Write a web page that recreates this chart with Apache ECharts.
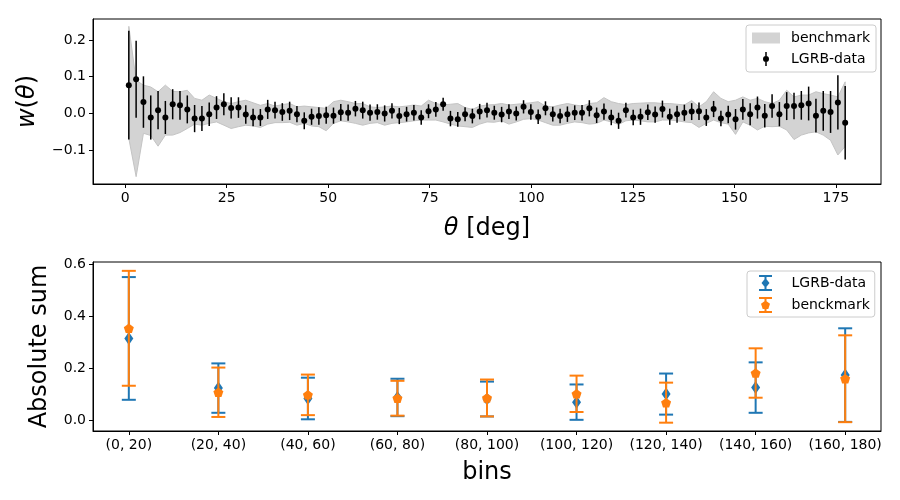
<!DOCTYPE html>
<html>
<head>
<meta charset="utf-8">
<script src="https://cdn.jsdelivr.net/npm/echarts@6/dist/echarts.min.js"></script>
<style>
html, body { margin: 0; padding: 0; background: #fff; }
#chart { width: 900px; height: 500px; }
</style>
</head>
<body>
<div id="chart"></div>
<script>
// angular bin centres (deg)
const theta = [
  0.9, 2.7, 4.5, 6.3, 8.1, 9.9, 11.7, 13.5, 15.3, 17.1,
  18.9, 20.7, 22.5, 24.3, 26.1, 27.9, 29.7, 31.5, 33.3, 35.1,
  36.9, 38.7, 40.5, 42.3, 44.1, 45.9, 47.7, 49.5, 51.3, 53.1,
  54.9, 56.7, 58.5, 60.3, 62.1, 63.9, 65.7, 67.5, 69.3, 71.1,
  72.9, 74.7, 76.5, 78.3, 80.1, 81.9, 83.7, 85.5, 87.3, 89.1,
  90.9, 92.7, 94.5, 96.3, 98.1, 99.9, 101.7, 103.5, 105.3, 107.1,
  108.9, 110.7, 112.5, 114.3, 116.1, 117.9, 119.7, 121.5, 123.3, 125.1,
  126.9, 128.7, 130.5, 132.3, 134.1, 135.9, 137.7, 139.5, 141.3, 143.1,
  144.9, 146.7, 148.5, 150.3, 152.1, 153.9, 155.7, 157.5, 159.3, 161.1,
  162.9, 164.7, 166.5, 168.3, 170.1, 171.9, 173.7, 175.5, 177.3
];
// LGRB-data w(theta) and its error
const wData = [
  0.077, 0.093, 0.031, -0.011, 0.009, -0.011, 0.025, 0.022, 0.011, -0.014,
  -0.014, -0.002, 0.016, 0.025, 0.015, 0.016, -0.003, -0.011, -0.011, 0.011,
  0.009, 0.004, 0.007, -0.002, -0.020, -0.009, -0.007, -0.005, -0.006, 0.003,
  0.002, 0.013, 0.009, 0.002, 0.004, 0.000, 0.007, -0.007, -0.002, 0.002,
  -0.011, 0.006, 0.011, 0.025, -0.014, -0.016, -0.002, -0.007, 0.005, 0.009,
  0.002, -0.003, 0.005, 0.000, 0.018, 0.004, -0.009, 0.014, -0.002, -0.007,
  -0.002, 0.002, 0.002, 0.014, -0.005, 0.005, -0.011, -0.020, 0.009, -0.011,
  -0.009, 0.003, -0.003, 0.012, -0.009, -0.002, 0.002, 0.005, 0.006, -0.011,
  0.012, -0.014, -0.003, -0.016, 0.011, -0.002, 0.016, -0.006, 0.020, -0.002,
  0.020, 0.020, 0.022, 0.027, -0.006, 0.007, 0.004, 0.030, -0.025
];
const wErr = [
  0.148, 0.105, 0.070, 0.060, 0.052, 0.045, 0.041, 0.039, 0.038, 0.037,
  0.034, 0.032, 0.031, 0.030, 0.029, 0.028, 0.025, 0.024, 0.023, 0.026,
  0.023, 0.024, 0.025, 0.022, 0.023, 0.022, 0.024, 0.023, 0.022, 0.023,
  0.022, 0.021, 0.023, 0.022, 0.021, 0.022, 0.021, 0.022, 0.020, 0.021,
  0.020, 0.019, 0.020, 0.018, 0.021, 0.020, 0.019, 0.020, 0.021, 0.020,
  0.019, 0.021, 0.020, 0.019, 0.018, 0.021, 0.020, 0.019, 0.020, 0.020,
  0.021, 0.020, 0.021, 0.022, 0.021, 0.022, 0.021, 0.022, 0.020, 0.021,
  0.022, 0.021, 0.022, 0.023, 0.022, 0.023, 0.022, 0.023, 0.024, 0.023,
  0.022, 0.021, 0.024, 0.028, 0.028, 0.030, 0.030, 0.032, 0.032, 0.033,
  0.038, 0.036, 0.039, 0.046, 0.046, 0.054, 0.057, 0.074, 0.100
];
// benchmark band
const benchLow = [
  -0.068, -0.172, -0.054, -0.060, -0.089, -0.059, -0.059, -0.052, -0.041, -0.029,
  -0.032, -0.027, -0.023, -0.032, -0.041, -0.036, -0.032, -0.034, -0.038, -0.029,
  -0.025, -0.025, -0.024, -0.032, -0.027, -0.034, -0.036, -0.047, -0.027, -0.020,
  -0.023, -0.027, -0.032, -0.027, -0.025, -0.032, -0.027, -0.025, -0.023, -0.020,
  -0.018, -0.018, -0.018, -0.023, -0.029, -0.034, -0.036, -0.038, -0.029, -0.023,
  -0.024, -0.020, -0.029, -0.023, -0.016, -0.014, -0.018, -0.025, -0.032, -0.032,
  -0.027, -0.023, -0.025, -0.029, -0.027, -0.018, -0.023, -0.030, -0.020, -0.018,
  -0.020, -0.023, -0.023, -0.018, -0.018, -0.020, -0.023, -0.025, -0.038, -0.027,
  -0.018, -0.025, -0.029, -0.057, -0.023, -0.032, -0.045, -0.035, -0.036, -0.035,
  -0.045, -0.071, -0.059, -0.053, -0.050, -0.059, -0.073, -0.113, -0.090
];
const benchHigh = [
  0.237, 0.090, 0.077, 0.072, 0.059, 0.077, 0.060, 0.059, 0.063, 0.041,
  0.036, 0.050, 0.041, 0.032, 0.027, 0.032, 0.036, 0.029, 0.022, 0.027,
  0.020, 0.024, 0.027, 0.018, 0.020, 0.018, 0.016, 0.014, 0.032, 0.036,
  0.032, 0.027, 0.027, 0.018, 0.016, 0.018, 0.020, 0.018, 0.020, 0.023,
  0.020, 0.036, 0.027, 0.023, 0.025, 0.027, 0.016, 0.011, 0.020, 0.023,
  0.024, 0.027, 0.023, 0.025, 0.027, 0.029, 0.032, 0.020, 0.018, 0.023,
  0.027, 0.023, 0.020, 0.027, 0.029, 0.043, 0.032, 0.027, 0.024, 0.027,
  0.028, 0.029, 0.029, 0.027, 0.027, 0.025, 0.023, 0.035, 0.018, 0.032,
  0.059, 0.041, 0.032, 0.036, 0.045, 0.036, 0.041, 0.032, 0.027, 0.036,
  0.063, 0.045, 0.050, 0.050, 0.059, 0.054, 0.050, 0.045, 0.086
];
const thetaTicks = [0, 25, 50, 75, 100, 125, 150, 175];
const wTicks = [-0.1, 0.0, 0.1, 0.2];

// absolute sums per bin
const bins = ['(0, 20)', '(20, 40)', '(40, 60)', '(60, 80)', '(80, 100)',
  '(100, 120)', '(120, 140)', '(140, 160)', '(160, 180)'];
const lgrbSum = [0.314, 0.123, 0.083, 0.087, 0.081, 0.069, 0.100, 0.125, 0.173];
const lgrbSumErr = [0.236, 0.095, 0.080, 0.072, 0.067, 0.068, 0.079, 0.097, 0.180];
const benchSum = [0.353, 0.107, 0.097, 0.084, 0.085, 0.101, 0.067, 0.181, 0.159];
const benchSumErr = [0.221, 0.095, 0.078, 0.067, 0.071, 0.070, 0.077, 0.095, 0.167];
const sumTicks = [0.0, 0.2, 0.4, 0.6];

const FONT = 'DejaVu Sans';
const BLUE = '#1f77b4';
const ORANGE = '#ff7f0e';
const PENTAGON = 'path://M50,0 L97.6,34.5 L79.4,90.5 L20.6,90.5 L2.4,34.5 Z';

function fmt(v) {
  return v.toFixed(1).replace('-', '\u2212');
}

function axisCommon() {
  return {
    axisLine: { show: true, onZero: false, lineStyle: { color: '#000', width: 1 } },
    axisTick: { show: true, length: 4, lineStyle: { color: '#000', width: 1 } },
    splitLine: { show: false },
    nameTextStyle: {
      fontFamily: FONT, fontSize: 24, color: '#000',
      rich: { i: { fontFamily: FONT, fontSize: 24, fontStyle: 'italic', color: '#000' } }
    }
  };
}

// vertical error bars, caps optional
function errBars(color, width, cap) {
  return function (params, api) {
    const x = api.value(0);
    const lo = api.coord([x, api.value(1)]);
    const hi = api.coord([x, api.value(2)]);
    const st = { stroke: color, lineWidth: width };
    const kids = [{ type: 'line', shape: { x1: lo[0], y1: lo[1], x2: hi[0], y2: hi[1] }, style: st }];
    if (cap) {
      kids.push({ type: 'line', shape: { x1: lo[0] - cap, y1: lo[1], x2: lo[0] + cap, y2: lo[1] }, style: st });
      kids.push({ type: 'line', shape: { x1: hi[0] - cap, y1: hi[1], x2: hi[0] + cap, y2: hi[1] }, style: st });
    }
    return { type: 'group', children: kids };
  };
}

function bandPolygon(params, api) {
  if (params.dataIndex !== 0) return null;
  const pts = [];
  for (let i = 0; i < theta.length; i++) pts.push(api.coord([theta[i], benchHigh[i]]));
  for (let i = theta.length - 1; i >= 0; i--) pts.push(api.coord([theta[i], benchLow[i]]));
  return {
    type: 'polygon',
    shape: { points: pts },
    style: { fill: '#d3d3d3', stroke: '#c4c4c4', lineWidth: 1 }
  };
}

const chart = echarts.init(document.getElementById('chart'), null, { renderer: 'canvas' });

const xTop = Object.assign(axisCommon(), {
  type: 'value', gridIndex: 0, min: -7.92, max: 186.12,
  name: '{i|θ} [deg]', nameLocation: 'middle', nameGap: 33
});
xTop.axisTick.customValues = thetaTicks;
xTop.axisLabel = { customValues: thetaTicks, fontFamily: FONT, fontSize: 14, color: '#000', margin: 7 };

const yTop = Object.assign(axisCommon(), {
  type: 'value', gridIndex: 0, min: -0.192, max: 0.257,
  name: '{i|w}({i|θ})', nameLocation: 'middle', nameGap: 53
});
yTop.axisTick.customValues = wTicks;
yTop.axisLabel = { customValues: wTicks, fontFamily: FONT, fontSize: 14, color: '#000', margin: 7, formatter: fmt };

const xBot = Object.assign(axisCommon(), {
  type: 'value', gridIndex: 1, min: -0.4, max: 8.4,
  name: 'bins', nameLocation: 'middle', nameGap: 30
});
const binIdx = bins.map((b, i) => i);
xBot.axisTick.customValues = binIdx;
xBot.axisLabel = {
  customValues: binIdx, fontFamily: FONT, fontSize: 14, color: '#000', margin: 7,
  formatter: v => bins[Math.round(v)]
};

const yBot = Object.assign(axisCommon(), {
  type: 'value', gridIndex: 1, min: -0.042, max: 0.608,
  name: 'Absolute sum', nameLocation: 'middle', nameGap: 41
});
yBot.axisTick.customValues = sumTicks;
yBot.axisLabel = { customValues: sumTicks, fontFamily: FONT, fontSize: 14, color: '#000', margin: 7, formatter: fmt };

const legendCommon = {
  orient: 'vertical',
  backgroundColor: 'rgba(255,255,255,0.8)',
  borderColor: '#cccccc', borderWidth: 1, borderRadius: 3,
  itemWidth: 28,
  selectedMode: false
};

const option = {
  animation: false,
  backgroundColor: '#fff',
  grid: [
    { left: 93, top: 19, width: 788, height: 165, show: true, borderColor: '#000', borderWidth: 1, backgroundColor: 'transparent' },
    { left: 93, top: 262, width: 788, height: 169, show: true, borderColor: '#000', borderWidth: 1, backgroundColor: 'transparent' }
  ],
  xAxis: [xTop, xBot],
  yAxis: [yTop, yBot],
  legend: [
    Object.assign({}, legendCommon, {
      id: 'legTop', left: 746, top: 25, padding: [6, 6, 6, 6], itemHeight: 14, itemGap: 7,
      textStyle: { fontFamily: FONT, fontSize: 14, color: '#000', padding: [0, 0, 0, 6] },
      data: [
        { name: 'benchmark', icon: 'path://M0,0 H28 V11 H0 Z' },
        { name: 'LGRB-data', icon: 'path://M2.25,0 H3.75 V14 H2.25 Z M0,7 A3,3 0 1,1 6,7 A3,3 0 1,1 0,7 Z',
          itemStyle: { color: '#000' } }
      ]
    }),
    Object.assign({}, legendCommon, {
      id: 'legBottom', left: 747, top: 271, padding: [4, 5, 4, 12], itemHeight: 16, itemGap: 6,
      textStyle: { fontFamily: FONT, fontSize: 14, color: '#000', padding: [0, 0, 0, 7] },
      data: [
        { name: 'LGRB-data', itemStyle: { color: BLUE },
          icon: 'path://M0,0 H13 V2 H0 Z M0,14 H13 V16 H0 Z M5.5,0 H7.5 V16 H5.5 Z M6.5,3 L10.5,8 L6.5,13 L2.5,8 Z' },
        { name: 'benckmark', itemStyle: { color: ORANGE },
          icon: 'path://M0,0 H13 V2 H0 Z M0,14 H13 V16 H0 Z M5.5,0 H7.5 V16 H5.5 Z M6.5,3.5 L11,6.8 L9.3,12 L3.7,12 L2,6.8 Z' }
      ]
    })
  ],
  series: [
    {
      name: 'benchmark', type: 'custom', xAxisIndex: 0, yAxisIndex: 0,
      itemStyle: { color: '#d3d3d3' },
      renderItem: bandPolygon,
      data: [[theta[0], benchLow[0]]],
      encode: { x: 0, y: 1 },
      silent: true, z: 1
    },
    {
      name: 'LGRB-data errors', type: 'custom', xAxisIndex: 0, yAxisIndex: 0,
      renderItem: errBars('#000', 1.5, 0),
      data: theta.map((t, i) => [t, wData[i] - wErr[i], wData[i] + wErr[i]]),
      encode: { x: 0, y: [1, 2] },
      silent: true, z: 2
    },
    {
      name: 'LGRB-data', type: 'scatter', xAxisIndex: 0, yAxisIndex: 0,
      symbol: 'circle', symbolSize: 6,
      itemStyle: { color: '#000', opacity: 1 },
      data: theta.map((t, i) => [t, wData[i]]),
      silent: true, z: 3
    },
    {
      name: 'LGRB-data bin errors', type: 'custom', xAxisIndex: 1, yAxisIndex: 1,
      renderItem: errBars(BLUE, 2, 7),
      data: bins.map((b, i) => [i, lgrbSum[i] - lgrbSumErr[i], lgrbSum[i] + lgrbSumErr[i]]),
      encode: { x: 0, y: [1, 2] },
      silent: true, z: 2
    },
    {
      name: 'LGRB-data', type: 'scatter', xAxisIndex: 1, yAxisIndex: 1,
      symbol: 'diamond', symbolSize: [9, 13],
      itemStyle: { color: BLUE, opacity: 1 },
      data: bins.map((b, i) => [i, lgrbSum[i]]),
      silent: true, z: 3
    },
    {
      name: 'benckmark bin errors', type: 'custom', xAxisIndex: 1, yAxisIndex: 1,
      renderItem: errBars(ORANGE, 2, 7),
      data: bins.map((b, i) => [i, benchSum[i] - benchSumErr[i], benchSum[i] + benchSumErr[i]]),
      encode: { x: 0, y: [1, 2] },
      silent: true, z: 4
    },
    {
      name: 'benckmark', type: 'scatter', xAxisIndex: 1, yAxisIndex: 1,
      symbol: PENTAGON, symbolSize: 10, symbolKeepAspect: true,
      itemStyle: { color: ORANGE, opacity: 1 },
      data: bins.map((b, i) => [i, benchSum[i]]),
      silent: true, z: 5
    }
  ]
};

chart.setOption(option);
</script>
</body>
</html>
